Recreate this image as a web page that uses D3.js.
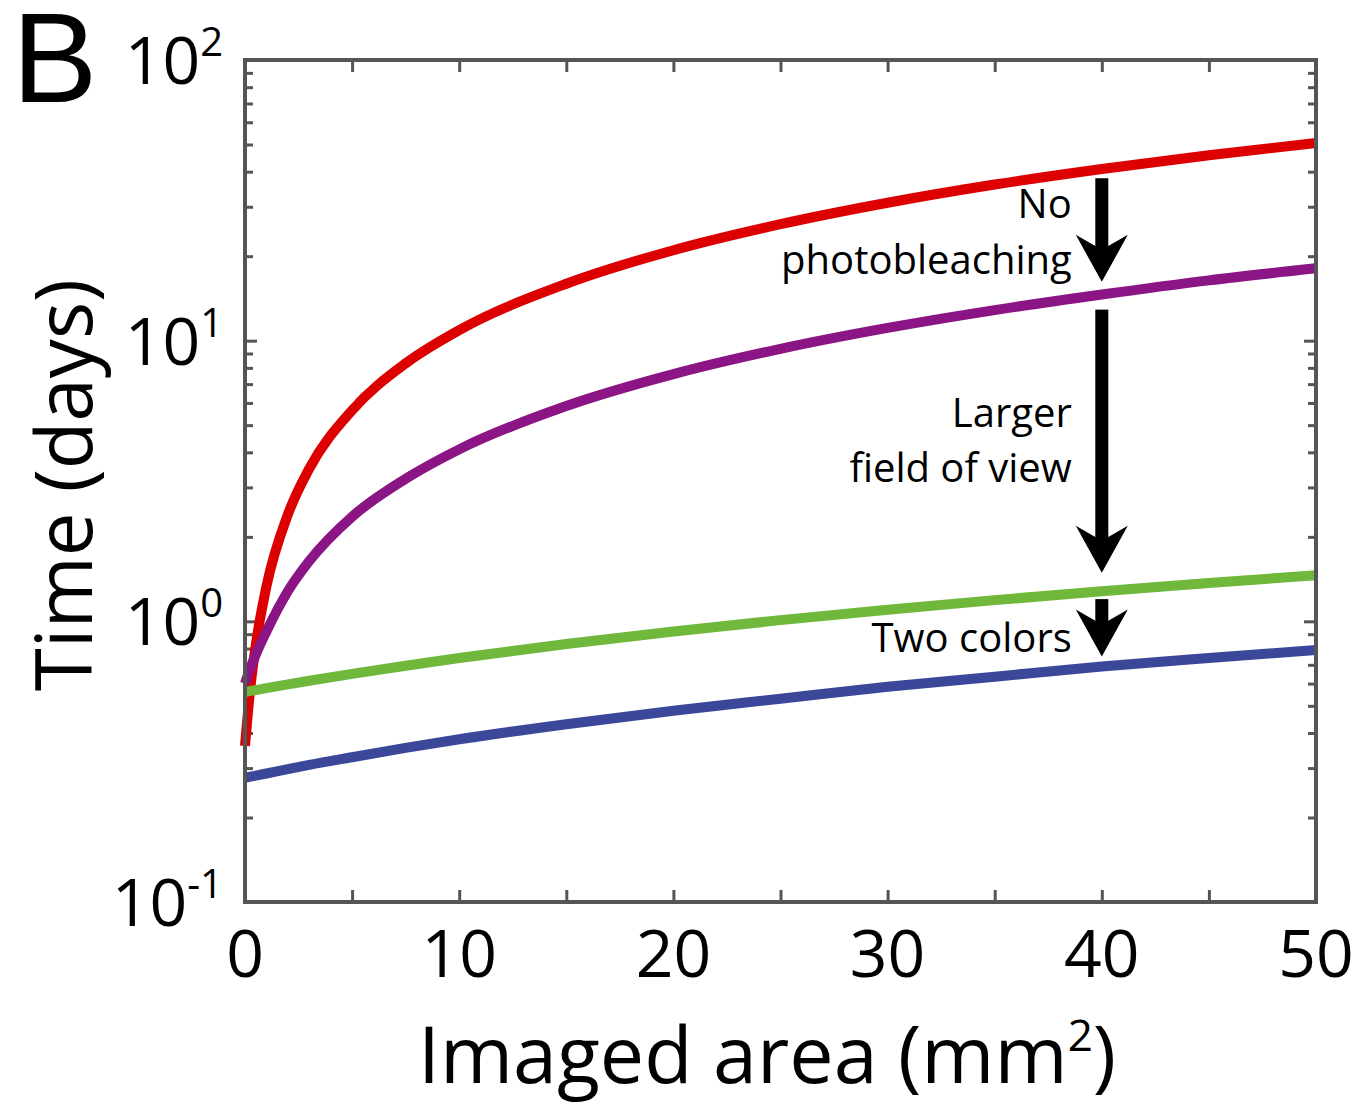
<!DOCTYPE html>
<html>
<head>
<meta charset="utf-8">
<script src="https://cdn.jsdelivr.net/npm/d3@7"></script>
<style>
  body { margin: 0; background: #fff; }
  svg text { font-family: "Open Sans", "Noto Sans", sans-serif; fill: #000; }
</style>
</head>
<body>
<div id="chart"></div>
<script>
// values (imaged area in mm^2, time in days)
var areas  = [0, 0.25, 0.5, 1, 2, 3, 5, 7.5, 10, 15, 20, 25, 30, 35, 40, 45, 50];
var red    = [0.36, 0.58, 0.82, 1.33, 2.4, 3.5, 5.65, 8.3, 10.9, 15.95, 21.0, 26.0, 31.0, 36.0, 40.9, 45.8, 50.6];
var purple = [0.6, 0.68, 0.76, 0.92, 1.28, 1.64, 2.36, 3.22, 4.1, 5.85, 7.6, 9.35, 11.1, 12.85, 14.6, 16.4, 18.1];
var green  = [0.56, 0.565, 0.569, 0.578, 0.596, 0.614, 0.65, 0.695, 0.74, 0.83, 0.92, 1.01, 1.1, 1.19, 1.28, 1.37, 1.46];
var blue   = [0.277, 0.2796, 0.282, 0.287, 0.2975, 0.308, 0.328, 0.354, 0.38, 0.43, 0.48, 0.53, 0.585, 0.635, 0.69, 0.74, 0.79];

var xTicks = [0, 10, 20, 30, 40, 50];
var xMinor = [5, 15, 25, 35, 45];
var yExps  = [-1, 0, 1, 2];

// arrows at area = 40, from / to in days
var arrowX = 40;
var arrows = [[37.9, 16.2], [12.9, 1.49], [1.2, 0.75]];
var notes = [
  { lines: ["No", "photobleaching"], y: [18, 74] },
  { lines: ["Larger", "field of view"], y: [227, 282] },
  { lines: ["Two colors"], y: [452] }
];

var svgWidth = 1366, svgHeight = 1105;
var margin = { top: 60, left: 245, right: 50, bottom: 203 };
var width = svgWidth - margin.left - margin.right;   // 1071
var height = svgHeight - margin.top - margin.bottom;  // 842

var svg = d3.select("#chart").append("svg")
  .attr("width", svgWidth)
  .attr("height", svgHeight);

var chart = svg.append("g")
  .attr("transform", `translate(${margin.left},${margin.top})`);

var x = d3.scaleLinear().domain([0, 50]).range([0, width]);
var y = d3.scaleLog().domain([0.1, 100]).range([height, 0]);

var axisColor = "#555";

// minor log ticks
var minorY = [];
yExps.slice(0, 3).forEach(e => { for (var k = 2; k <= 9; k++) minorY.push(k * Math.pow(10, e)); });
var majorY = yExps.map(e => Math.pow(10, e));

function styleAxis(g) {
  g.select(".domain").remove();
  g.selectAll("line").attr("stroke", axisColor).attr("stroke-width", 3);
  g.selectAll("text").remove();
}

// left / right ticks
chart.append("g").call(d3.axisLeft(y).tickValues(minorY).tickSize(-8)).call(styleAxis);
chart.append("g").call(d3.axisLeft(y).tickValues(majorY).tickSize(-12)).call(styleAxis);
chart.append("g").attr("transform", `translate(${width},0)`)
  .call(d3.axisRight(y).tickValues(minorY).tickSize(-8)).call(styleAxis);
chart.append("g").attr("transform", `translate(${width},0)`)
  .call(d3.axisRight(y).tickValues(majorY).tickSize(-12)).call(styleAxis);

// bottom / top ticks
chart.append("g").attr("transform", `translate(0,${height})`)
  .call(d3.axisBottom(x).tickValues(xTicks.concat(xMinor)).tickSize(-12)).call(styleAxis);
chart.append("g")
  .call(d3.axisTop(x).tickValues(xTicks.concat(xMinor)).tickSize(-12)).call(styleAxis);

// curves
var series = [
  { v: red, c: "#dd0000" },
  { v: purple, c: "#8c1585" },
  { v: green, c: "#6fb83c" },
  { v: blue, c: "#3b4899" }
];
var line = d3.line()
  .x((d, i) => x(areas[i]))
  .y(d => y(d))
  .curve(d3.curveMonotoneX);

series.forEach(s => {
  chart.append("path")
    .datum(s.v)
    .attr("fill", "none")
    .attr("stroke", s.c)
    .attr("stroke-width", 10)
    .attr("d", line);
});

// box
chart.append("rect")
  .attr("width", width)
  .attr("height", height)
  .attr("fill", "none")
  .attr("stroke", axisColor)
  .attr("stroke-width", 4);

// tick labels
chart.selectAll(".xlab").data(xTicks).enter().append("text")
  .attr("class", "xlab")
  .attr("x", d => x(d))
  .attr("y", height + 75)
  .attr("text-anchor", "middle")
  .style("font-size", "66px")
  .text(d => d);

yExps.forEach(e => {
  var t = chart.append("text")
    .attr("x", -22)
    .attr("y", y(Math.pow(10, e)) + 24)
    .attr("text-anchor", "end")
    .style("font-size", "66px");
  t.append("tspan").text("10");
  t.append("tspan").attr("dy", -28).style("font-size", "40px").text(e < 0 ? "-" + (-e) : e);
});

// arrows
var ax = x(arrowX);
arrows.forEach(a => {
  var y0 = y(a[0]), y1 = y(a[1]);
  chart.append("rect")
    .attr("x", ax - 6.5).attr("y", y0)
    .attr("width", 13).attr("height", y1 - y0 - 25)
    .attr("fill", "#000");
  chart.append("path")
    .attr("d", `M${ax},${y1} L${ax - 26},${y1 - 47} L${ax},${y1 - 32} L${ax + 26},${y1 - 47} Z`)
    .attr("fill", "#000");
});

// annotations
notes.forEach(n => {
  n.lines.forEach((s, i) => {
    chart.append("text")
      .attr("x", ax - 30)
      .attr("y", n.y[i] + 140)
      .attr("text-anchor", "end")
      .style("font-size", "40px")
      .text(s);
  });
});

// axis titles
svg.append("text")
  .attr("x", 767)
  .attr("y", 1083)
  .attr("text-anchor", "middle")
  .style("font-size", "79px")
  .html('Imaged area (mm<tspan dy="-32" font-size="44px">2</tspan><tspan dy="32">)</tspan>');

svg.append("text")
  .attr("transform", "rotate(-90)")
  .attr("x", -485)
  .attr("y", 92)
  .attr("text-anchor", "middle")
  .style("font-size", "78px")
  .text("Time (days)");

// panel letter
svg.append("text")
  .attr("x", 12)
  .attr("y", 102)
  .style("font-family", "'Liberation Sans', Arial, sans-serif")
  .style("font-size", "128px")
  .text("B");
</script>
</body>
</html>
